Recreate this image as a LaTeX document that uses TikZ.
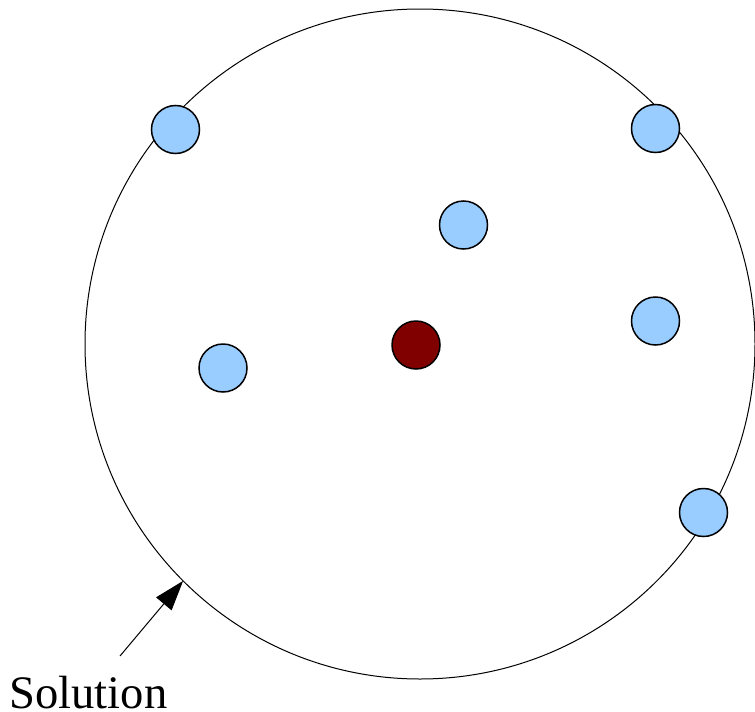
\documentclass[tikz,border=0pt]{standalone}
\usepackage{fontspec}
\setmainfont{Liberation Serif}
\usepackage{xcolor}
\usepackage{tikz}
\usetikzlibrary{positioning, arrows.meta}
\definecolor{pointblue}{HTML}{99CCFF}
\definecolor{centerred}{HTML}{800000}

\begin{document}
\begin{tikzpicture}[
        x=0.5pt, y=-0.5pt,
        >=Stealth,
        dot_style/.style={circle, draw=black, line width=0.75pt, minimum size=24pt, inner sep=0pt, outer sep=0pt},
        point_style/.style={dot_style, fill=pointblue},
        center_style/.style={dot_style, fill=centerred},
        arrow_style/.style={-{Triangle[length=15pt, width=10pt]}, line width=0.5pt}
    ]
    \useasboundingbox (0,0) rectangle (755,712);

    % =========================================================================
    % 1. SOLUTION CIRCLE
    % =========================================================================
    \node[circle, draw=black, line width=0.5pt, minimum size=335pt, inner sep=0pt, outer sep=0pt] (solution) at (420,344) {};

    % =========================================================================
    % 2. POINTS AND CENTRE
    % =========================================================================
    \node[point_style] (p1) at (175.5,129.5) {};
    \node[point_style] (p2) at (655.5,128.5) {};
    \node[point_style] (p3) at (463.5,225) {};
    \node[point_style] (p4) at (655.5,321) {};
    \node[point_style] (p5) at (223,368) {};
    \node[point_style] (p6) at (703.5,512.5) {};
    \node[center_style] (c) at (416,345) {};

    % =========================================================================
    % 3. LABEL
    % =========================================================================
    \node[font=\fontsize{23.3}{28}\selectfont, anchor=base west, inner sep=0pt] (lbl) at (9,708) {Solution};
    \coordinate (tail) at (120,656);
    \draw[arrow_style] (tail) -- (solution.225);

\end{tikzpicture}
\end{document}
